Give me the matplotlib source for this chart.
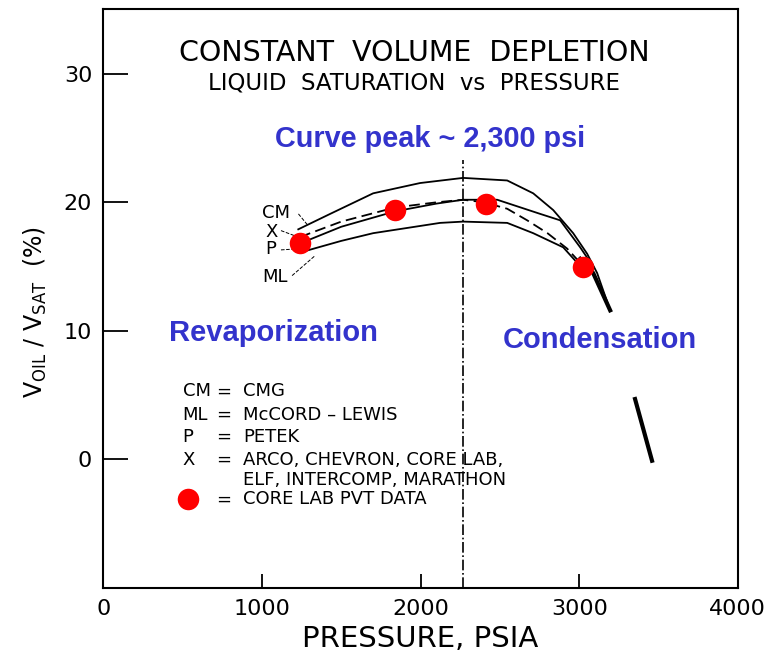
import matplotlib.pyplot as plt

# curve data (pressure psia, liquid saturation %)
cm_p = [1229, 1430, 1701, 1997, 2268, 2546, 2710, 2836, 2962, 3050, 3113, 3195]
cm_v = [17.9, 19.1, 20.7, 21.5, 21.9, 21.7, 20.7, 19.4, 17.6, 16.0, 14.5, 11.6]

x_p = [1240, 1500, 1840, 2100, 2268, 2400, 2546, 2672, 2800, 2924, 3006]
x_v = [17.3, 18.5, 19.6, 20.0, 20.2, 20.0, 19.5, 18.6, 17.6, 16.4, 15.3]

p_p = [1240, 1500, 1840, 2100, 2268, 2483, 2754, 2880, 3006, 3088]
p_v = [16.8, 18.1, 19.3, 19.9, 20.2, 20.2, 19.1, 18.6, 16.5, 15.0]

ml_p = [1241, 1500, 1701, 2123, 2268, 2546, 2710, 2899, 2987]
ml_v = [16.1, 17.0, 17.6, 18.4, 18.5, 18.4, 17.6, 16.5, 15.3]

# common steep branch and the lower separate segment
tail_p = [3006, 3088, 3195]
tail_v = [15.6, 14.5, 11.6]
low_p = [3352, 3459]
low_v = [4.7, -0.1]

# Core Lab PVT data points
pvt_p = [1241, 1840, 2413, 3025]
pvt_v = [16.8, 19.4, 19.9, 15.0]

peak_p = 2268

x_ticks = [0, 1000, 2000, 3000, 4000]
y_ticks = [0, 10, 20, 30]

blue = '#3333CC'

fig = plt.figure(figsize=(7.71, 6.53), dpi=100)
ax = fig.add_axes([0.134, 0.0995, 0.823, 0.886])

ax.plot(cm_p, cm_v, color='black', lw=1.3)
ax.plot(x_p, x_v, color='black', lw=1.3, ls=(0, (6, 3)))
ax.plot(p_p, p_v, color='black', lw=1.3)
ax.plot(ml_p, ml_v, color='black', lw=1.3)
ax.plot(tail_p, tail_v, color='black', lw=3)
ax.plot(low_p, low_v, color='black', lw=3)

# curve peak marker line
ax.plot([peak_p, peak_p], [-10, 23.3], color='black', lw=1.2, ls='-.')

ax.plot(pvt_p, pvt_v, 'o', color='red', ms=15.5, mec='none', zorder=5)

# curve labels with leaders
ax.text(1000, 19.2, 'CM', fontsize=13, va='center')
ax.text(1020, 17.7, 'X', fontsize=13, va='center')
ax.text(1020, 16.4, 'P', fontsize=13, va='center')
ax.text(1000, 14.2, 'ML', fontsize=13, va='center')
ax.plot([1230, 1290], [19.1, 18.2], color='black', lw=0.7, ls='--')
ax.plot([1120, 1250], [17.8, 17.2], color='black', lw=0.7, ls='--')
ax.plot([1120, 1250], [16.3, 16.4], color='black', lw=0.7, ls='--')
ax.plot([1190, 1330], [14.3, 15.8], color='black', lw=0.7, ls='--')

# titles inside the plot
ax.text(0.49, 0.925, 'CONSTANT  VOLUME  DEPLETION', transform=ax.transAxes,
        ha='center', va='center', fontsize=20.5)
ax.text(0.49, 0.873, 'LIQUID  SATURATION  vs  PRESSURE', transform=ax.transAxes,
        ha='center', va='center', fontsize=16.5)

ax.text(2060, 24.9, 'Curve peak ~ 2,300 psi', color=blue, fontsize=20.8,
        fontweight='bold', family='Liberation Sans', ha='center', va='center')
ax.text(1071, 9.8, 'Revaporization', color=blue, fontsize=21,
        fontweight='bold', family='Liberation Sans', ha='center', va='center')
ax.text(3132, 9.3, 'Condensation', color=blue, fontsize=21,
        fontweight='bold', family='Liberation Sans', ha='center', va='center')

# key block
key_rows = [('CM', '=', 'CMG', 5.3),
            ('ML', '=', 'McCORD \u2013 LEWIS', 3.45),
            ('P', '=', 'PETEK', 1.75),
            ('X', '=', 'ARCO, CHEVRON, CORE LAB,', -0.05)]
for code, eq, name, yv in key_rows:
    ax.text(500, yv, code, fontsize=13, va='center')
    ax.text(710, yv, eq, fontsize=13, va='center')
    ax.text(880, yv, name, fontsize=13, va='center')
ax.text(880, -1.6, 'ELF, INTERCOMP, MARATHON', fontsize=13, va='center')
ax.plot([535], [-3.1], 'o', color='red', ms=15.5, mec='none')
ax.text(710, -3.1, '=', fontsize=13, va='center')
ax.text(880, -3.1, 'CORE LAB PVT DATA', fontsize=13, va='center')

ax.set_xlim(0, 4000)
ax.set_ylim(-10, 35)
ax.set_xticks(x_ticks)
ax.set_yticks(y_ticks)
ax.tick_params(axis='y', direction='in', length=18, width=1.3, labelsize=16, pad=8)
ax.tick_params(axis='x', direction='in', length=10, width=1.3, labelsize=16, pad=8)
for s in ax.spines.values():
    s.set_linewidth(1.5)

ax.set_xlabel('PRESSURE, PSIA', fontsize=21, labelpad=4)
ax.set_ylabel(r'$\mathregular{V_{OIL}}$ / $\mathregular{V_{SAT}}$  (%)', fontsize=17)
ax.yaxis.set_label_coords(-0.085, 0.477)

plt.savefig('out.png', dpi=100)
